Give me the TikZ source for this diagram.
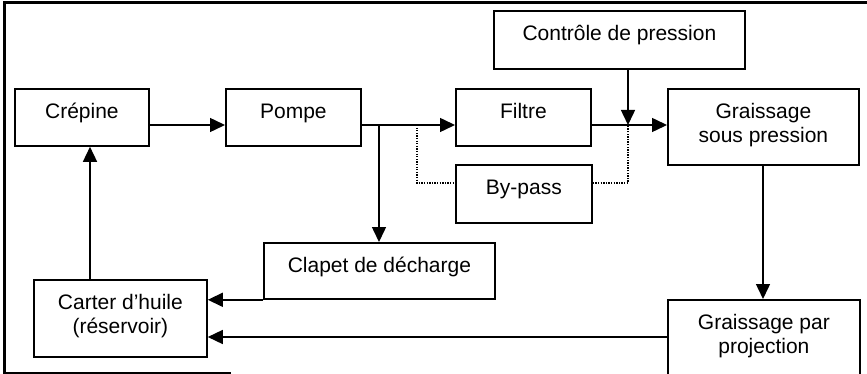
\documentclass[tikz,border=0pt]{standalone}
\usepackage{fontspec}
\setmainfont{Liberation Sans}
\usetikzlibrary{arrows.meta}
\newcommand{\twolines}[2]{\begin{tabular}[t]{@{}c@{}}#1\\#2\end{tabular}}
\tikzset{
  box/.style={draw, line width=1.8pt, anchor=north west, inner sep=0pt,
    text height=30pt, font=\fontsize{21}{24}\selectfont},
  arr/.style={line width=1.5pt, -{Triangle[length=15pt,width=14pt]}},
  dots/.style={line width=1.2pt, dash pattern=on 1.3pt off 1.3pt},
}
\begin{document}
\begin{tikzpicture}[x=1pt,y=-1pt]
\useasboundingbox (0,0) rectangle (867,374);
\clip (0,0) rectangle (867,374);
% frame
\draw[line width=3pt] (867,3) -- (4,3) -- (4,373) -- (231,373);
% boxes
\node[box, minimum width=134pt, text depth=27pt] (crepine) at (14,88) {Crépine};
\node[box, minimum width=135pt, text depth=27pt] (pompe) at (225,88) {Pompe};
\node[box, minimum width=135pt, text depth=27pt] (filtre) at (455,88) {Filtre};
\node[box, minimum width=251pt, text depth=28pt] (controle) at (493,10) {Contrôle de pression};
\node[box, minimum width=191pt, text depth=46pt] (gsp) at (667,88) {\twolines{Graissage}{sous pression}};
\node[box, minimum width=136pt, text depth=28pt] (bypass) at (455,164) {By-pass};
\node[box, minimum width=231pt, text depth=26pt] (clapet) at (263,242) {Clapet de décharge};
\node[box, minimum width=173pt, text depth=47pt] (carter) at (33,279) {\twolines{Carter d’huile}{(réservoir)}};
\node[box, minimum width=192pt, text depth=70pt] (gpp) at (667,299) {\twolines{Graissage par}{projection}};
% helper coordinates
\coordinate (mainY) at (0,125);
\coordinate (br) at (379,125);
\coordinate (bpL) at (417,125);
\coordinate (dl) at (417,183);
\coordinate (ctr) at (628,125);
\coordinate (dr) at (628,183);
\coordinate (vx) at (763,0);
\coordinate (y337) at (0,337);
\coordinate (x90) at (90,0);
% connectors
\draw[arr] (crepine.east |- mainY) -- (pompe.west |- mainY);
\draw[arr] (pompe.east |- mainY) -- (filtre.west |- mainY);
\draw[arr] (br) -- (br |- clapet.north);
\draw[dots] (bpL) -- (dl) -- (bypass.west |- dl);
\draw[arr] (filtre.east |- mainY) -- (gsp.west |- mainY);
\draw[arr] (controle.south -| ctr) -- (ctr);
\draw[dots] (bypass.east |- dr) -- (dr) -- (ctr);
\draw[arr] (gsp.south -| vx) -- (gpp.north -| vx);
\draw[arr] (gpp.west |- y337) -- (carter.east |- y337);
\draw[arr] (clapet.south west) -- (carter.east |- clapet.south west);
\draw[arr] (carter.north -| x90) -- (crepine.south -| x90);
\end{tikzpicture}
\end{document}
